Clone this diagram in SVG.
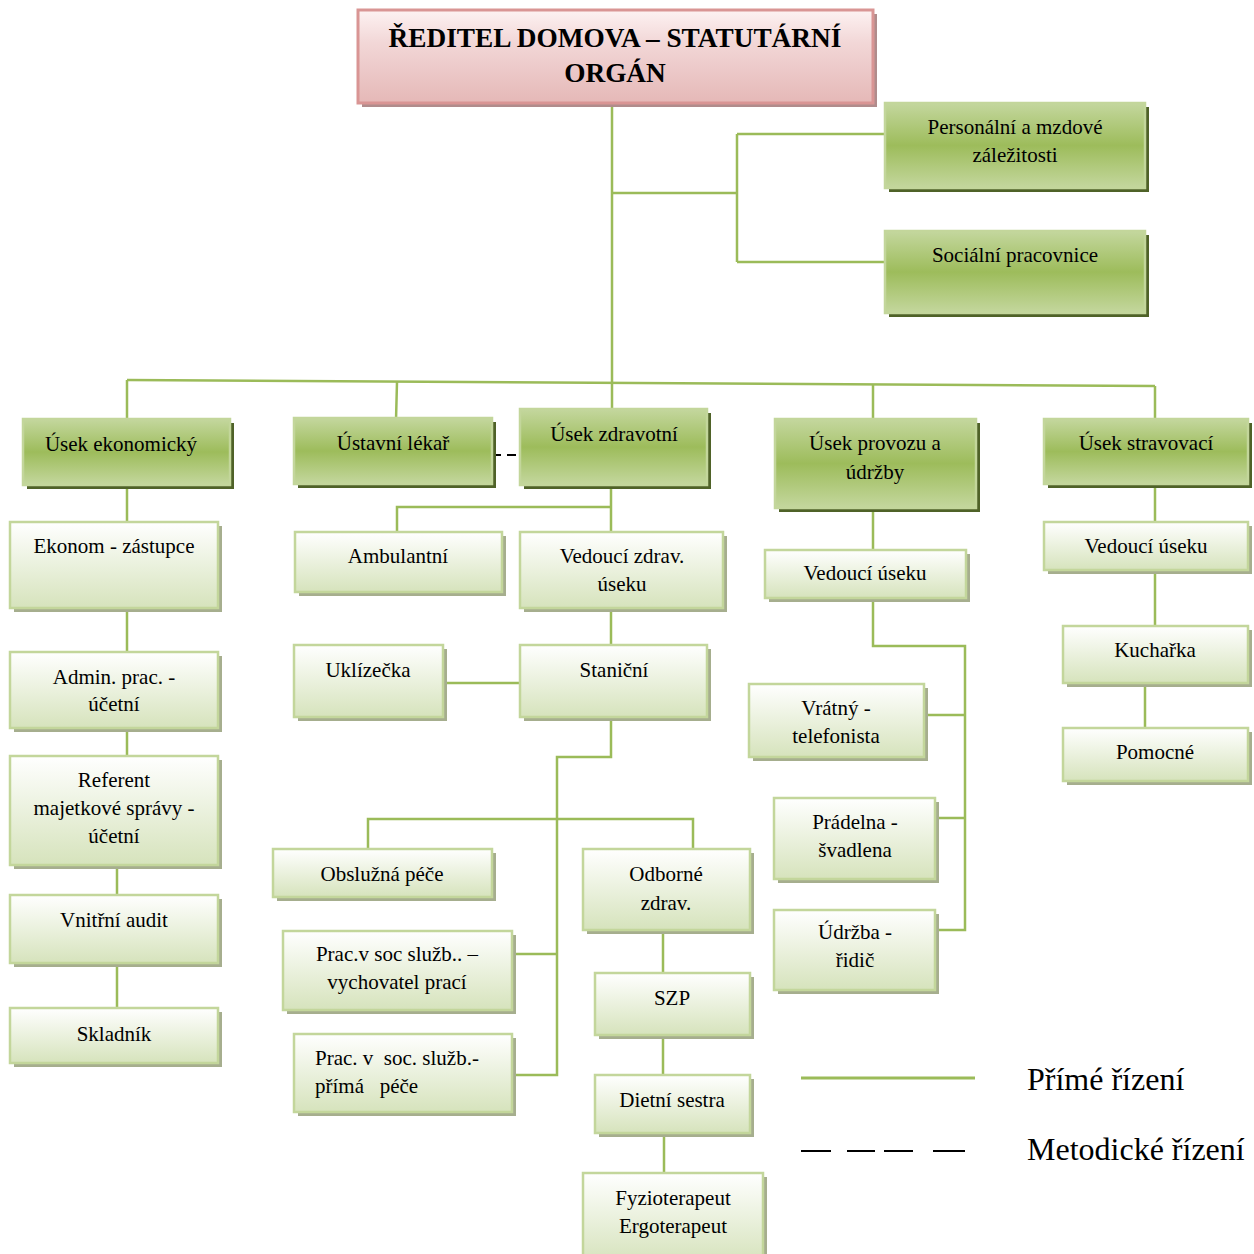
<svg xmlns="http://www.w3.org/2000/svg" width="1254" height="1254" viewBox="0 0 1254 1254">
<defs>
<linearGradient id="gPink" x1="0" y1="0" x2="0" y2="1">
<stop offset="0" stop-color="#fdf2f2"/>
<stop offset="0.35" stop-color="#f2d7d7"/>
<stop offset="1" stop-color="#e5b8b7"/>
</linearGradient>
<linearGradient id="gGreen" x1="0" y1="0" x2="0" y2="1">
<stop offset="0" stop-color="#c4d79e"/>
<stop offset="0.5" stop-color="#9dbc5b"/>
<stop offset="1" stop-color="#c4d79e"/>
</linearGradient>
<linearGradient id="gPale" x1="0" y1="0" x2="0" y2="1">
<stop offset="0" stop-color="#ffffff"/>
<stop offset="1" stop-color="#d6e3bc"/>
</linearGradient>
</defs>
<style>
text{font-family:"Liberation Serif","Times New Roman",serif;font-size:21px;fill:#000;text-anchor:middle}
.title{font-size:27.3px;font-weight:bold}
.legend{font-size:32px;text-anchor:start}
.left{text-anchor:start;white-space:pre}
.pink{fill:url(#gPink);stroke:#d99594;stroke-width:3}
.pinkS{fill:#b08c8c}
.green{fill:url(#gGreen);stroke:#c3d69b;stroke-width:2.5}
.greenS{fill:#4f6228}
.pale{fill:url(#gPale);stroke:#c3d69b;stroke-width:2.5}
.paleS{fill:#a6ae8e}
.con{fill:none;stroke:#9bbb59;stroke-width:2.5}
.dash{fill:none;stroke:#000;stroke-width:2}
</style>
<rect width="1254" height="1254" fill="#fff"/>
<g id="connectors">
<path class="con" d="M612,103 V410"/>
<path class="con" d="M612,193 H737 M737,134 V262 M737,134 H885 M737,262 H885"/>
<path class="con" d="M127,380 L1155,386"/>
<path class="con" d="M127,380 V420 M397,382 L396,420 M873,385 V420 M1155,386 V420"/>
<path class="con" d="M127,486 V521 M127,608 V652 M127,728 V756 M117,865 V895 M117,964 V1010"/>
<path class="con" d="M611,486 V507 H397 V532 M611,507 V532 M611,609 V645 M443,683 H520"/>
<path class="con" d="M611,717 V757 H557 V1075 H512 M557,954 H512 M368,849 V819 H693 V849"/>
<path class="con" d="M663,930 V973 M663,1035 V1075 M664,1133 V1173"/>
<path class="con" d="M873,510 V550 M873,600 V646 H965 V930 H935 M924,715 H965 M935,818 H965"/>
<path class="con" d="M1155,485 V522 M1155,570 V626 M1145,685 V728"/>
<path class="dash" d="M492,455 H520" stroke-dasharray="9,6"/>
</g>
<g id="reditel">
<rect class="pinkS" x="362" y="14" width="515" height="93"/>
<rect class="pink" x="358" y="10" width="515" height="93"/>
<text class="title" x="615" y="47">ŘEDITEL DOMOVA – STATUTÁRNÍ</text>
<text class="title" x="615" y="82">ORGÁN</text>
</g>
<g id="personalni">
<rect class="greenS" x="889" y="107" width="260" height="85"/>
<rect class="green" x="885" y="103" width="260" height="85"/>
<text x="1015" y="134">Personální a mzdové</text>
<text x="1015" y="162">záležitosti</text>
</g>
<g id="socialni">
<rect class="greenS" x="889" y="235" width="260" height="82"/>
<rect class="green" x="885" y="231" width="260" height="82"/>
<text x="1015" y="262">Sociální pracovnice</text>
</g>
<g id="usek-ekonomicky">
<rect class="greenS" x="27" y="423" width="207" height="66"/>
<rect class="green" x="23" y="419" width="207" height="66"/>
<text x="121" y="451">Úsek ekonomický</text>
</g>
<g id="ustavni-lekar">
<rect class="greenS" x="298" y="422" width="198" height="66"/>
<rect class="green" x="294" y="418" width="198" height="66"/>
<text x="393" y="450">Ústavní lékař</text>
</g>
<g id="usek-zdravotni">
<rect class="greenS" x="524" y="413" width="187" height="76"/>
<rect class="green" x="520" y="409" width="187" height="76"/>
<text x="614" y="441">Úsek zdravotní</text>
</g>
<g id="usek-provozu">
<rect class="greenS" x="779" y="423" width="201" height="89"/>
<rect class="green" x="775" y="419" width="201" height="89"/>
<text x="875" y="450">Úsek provozu a</text>
<text x="875" y="479">údržby</text>
</g>
<g id="usek-stravovaci">
<rect class="greenS" x="1048" y="423" width="204" height="65"/>
<rect class="green" x="1044" y="419" width="204" height="65"/>
<text x="1146" y="450">Úsek stravovací</text>
</g>
<g id="ekonom">
<rect class="paleS" x="14" y="526" width="208" height="86"/>
<rect class="pale" x="10" y="522" width="208" height="86"/>
<text x="114" y="553">Ekonom - zástupce</text>
</g>
<g id="admin">
<rect class="paleS" x="14" y="656" width="208" height="76"/>
<rect class="pale" x="10" y="652" width="208" height="76"/>
<text x="114" y="684">Admin. prac. -</text>
<text x="114" y="711">účetní</text>
</g>
<g id="referent">
<rect class="paleS" x="14" y="760" width="208" height="109"/>
<rect class="pale" x="10" y="756" width="208" height="109"/>
<text x="114" y="787">Referent</text>
<text x="114" y="815">majetkové správy -</text>
<text x="114" y="843">účetní</text>
</g>
<g id="vnitrni-audit">
<rect class="paleS" x="14" y="899" width="208" height="68"/>
<rect class="pale" x="10" y="895" width="208" height="68"/>
<text x="114" y="927">Vnitřní audit</text>
</g>
<g id="skladnik">
<rect class="paleS" x="14" y="1012" width="208" height="55"/>
<rect class="pale" x="10" y="1008" width="208" height="55"/>
<text x="114" y="1041">Skladník</text>
</g>
<g id="ambulantni">
<rect class="paleS" x="299" y="536" width="207" height="60"/>
<rect class="pale" x="295" y="532" width="207" height="60"/>
<text x="398" y="563">Ambulantní</text>
</g>
<g id="vedouci-zdrav">
<rect class="paleS" x="524" y="536" width="203" height="76"/>
<rect class="pale" x="520" y="532" width="203" height="76"/>
<text x="622" y="563">Vedoucí zdrav.</text>
<text x="622" y="591">úseku</text>
</g>
<g id="uklizecka">
<rect class="paleS" x="298" y="649" width="149" height="72"/>
<rect class="pale" x="294" y="645" width="149" height="72"/>
<text x="368" y="677">Uklízečka</text>
</g>
<g id="stanicni">
<rect class="paleS" x="524" y="649" width="187" height="72"/>
<rect class="pale" x="520" y="645" width="187" height="72"/>
<text x="614" y="677">Staniční</text>
</g>
<g id="obsluzna">
<rect class="paleS" x="277" y="853" width="219" height="48"/>
<rect class="pale" x="273" y="849" width="219" height="48"/>
<text x="382" y="881">Obslužná péče</text>
</g>
<g id="odborne">
<rect class="paleS" x="587" y="853" width="167" height="81"/>
<rect class="pale" x="583" y="849" width="167" height="81"/>
<text x="666" y="881">Odborné</text>
<text x="666" y="910">zdrav.</text>
</g>
<g id="vychovatel">
<rect class="paleS" x="287" y="935" width="229" height="79"/>
<rect class="pale" x="283" y="931" width="229" height="79"/>
<text x="397" y="961">Prac.v soc služb.. –</text>
<text x="397" y="989">vychovatel prací</text>
</g>
<g id="prima-pece">
<rect class="paleS" x="298" y="1038" width="218" height="78"/>
<rect class="pale" x="294" y="1034" width="218" height="78"/>
<text class="left" x="315" y="1065">Prac. v  soc. služb.-</text>
<text class="left" x="315" y="1093">přímá   péče</text>
</g>
<g id="szp">
<rect class="paleS" x="599" y="977" width="155" height="62"/>
<rect class="pale" x="595" y="973" width="155" height="62"/>
<text x="672" y="1005">SZP</text>
</g>
<g id="dietni">
<rect class="paleS" x="599" y="1079" width="155" height="58"/>
<rect class="pale" x="595" y="1075" width="155" height="58"/>
<text x="672" y="1107">Dietní sestra</text>
</g>
<g id="fyzio">
<rect class="paleS" x="587" y="1177" width="180" height="90"/>
<rect class="pale" x="583" y="1173" width="180" height="90"/>
<text x="673" y="1205">Fyzioterapeut</text>
<text x="673" y="1233">Ergoterapeut</text>
</g>
<g id="vedouci-provoz">
<rect class="paleS" x="769" y="554" width="201" height="48"/>
<rect class="pale" x="765" y="550" width="201" height="48"/>
<text x="865" y="580">Vedoucí úseku</text>
</g>
<g id="vratny">
<rect class="paleS" x="753" y="688" width="175" height="73"/>
<rect class="pale" x="749" y="684" width="175" height="73"/>
<text x="836" y="715">Vrátný -</text>
<text x="836" y="743">telefonista</text>
</g>
<g id="pradelna">
<rect class="paleS" x="778" y="802" width="161" height="81"/>
<rect class="pale" x="774" y="798" width="161" height="81"/>
<text x="855" y="829">Prádelna -</text>
<text x="855" y="857">švadlena</text>
</g>
<g id="udrzba">
<rect class="paleS" x="778" y="914" width="161" height="80"/>
<rect class="pale" x="774" y="910" width="161" height="80"/>
<text x="855" y="939">Údržba -</text>
<text x="855" y="967">řidič</text>
</g>
<g id="vedouci-strav">
<rect class="paleS" x="1048" y="526" width="204" height="48"/>
<rect class="pale" x="1044" y="522" width="204" height="48"/>
<text x="1146" y="553">Vedoucí úseku</text>
</g>
<g id="kucharka">
<rect class="paleS" x="1067" y="630" width="185" height="57"/>
<rect class="pale" x="1063" y="626" width="185" height="57"/>
<text x="1155" y="657">Kuchařka</text>
</g>
<g id="pomocne">
<rect class="paleS" x="1067" y="732" width="185" height="53"/>
<rect class="pale" x="1063" y="728" width="185" height="53"/>
<text x="1155" y="759">Pomocné</text>
</g>
<g id="legend">
<path d="M801,1078 H975" stroke="#9bbb59" stroke-width="3" fill="none"/>
<path d="M801,1151 H831 M847,1151 H875 M884,1151 H913 M933,1151 H965" stroke="#000" stroke-width="2" fill="none"/>
<text class="legend" x="1027" y="1090">Přímé řízení</text>
<text class="legend" x="1027" y="1160">Metodické řízení</text>
</g>
</svg>
